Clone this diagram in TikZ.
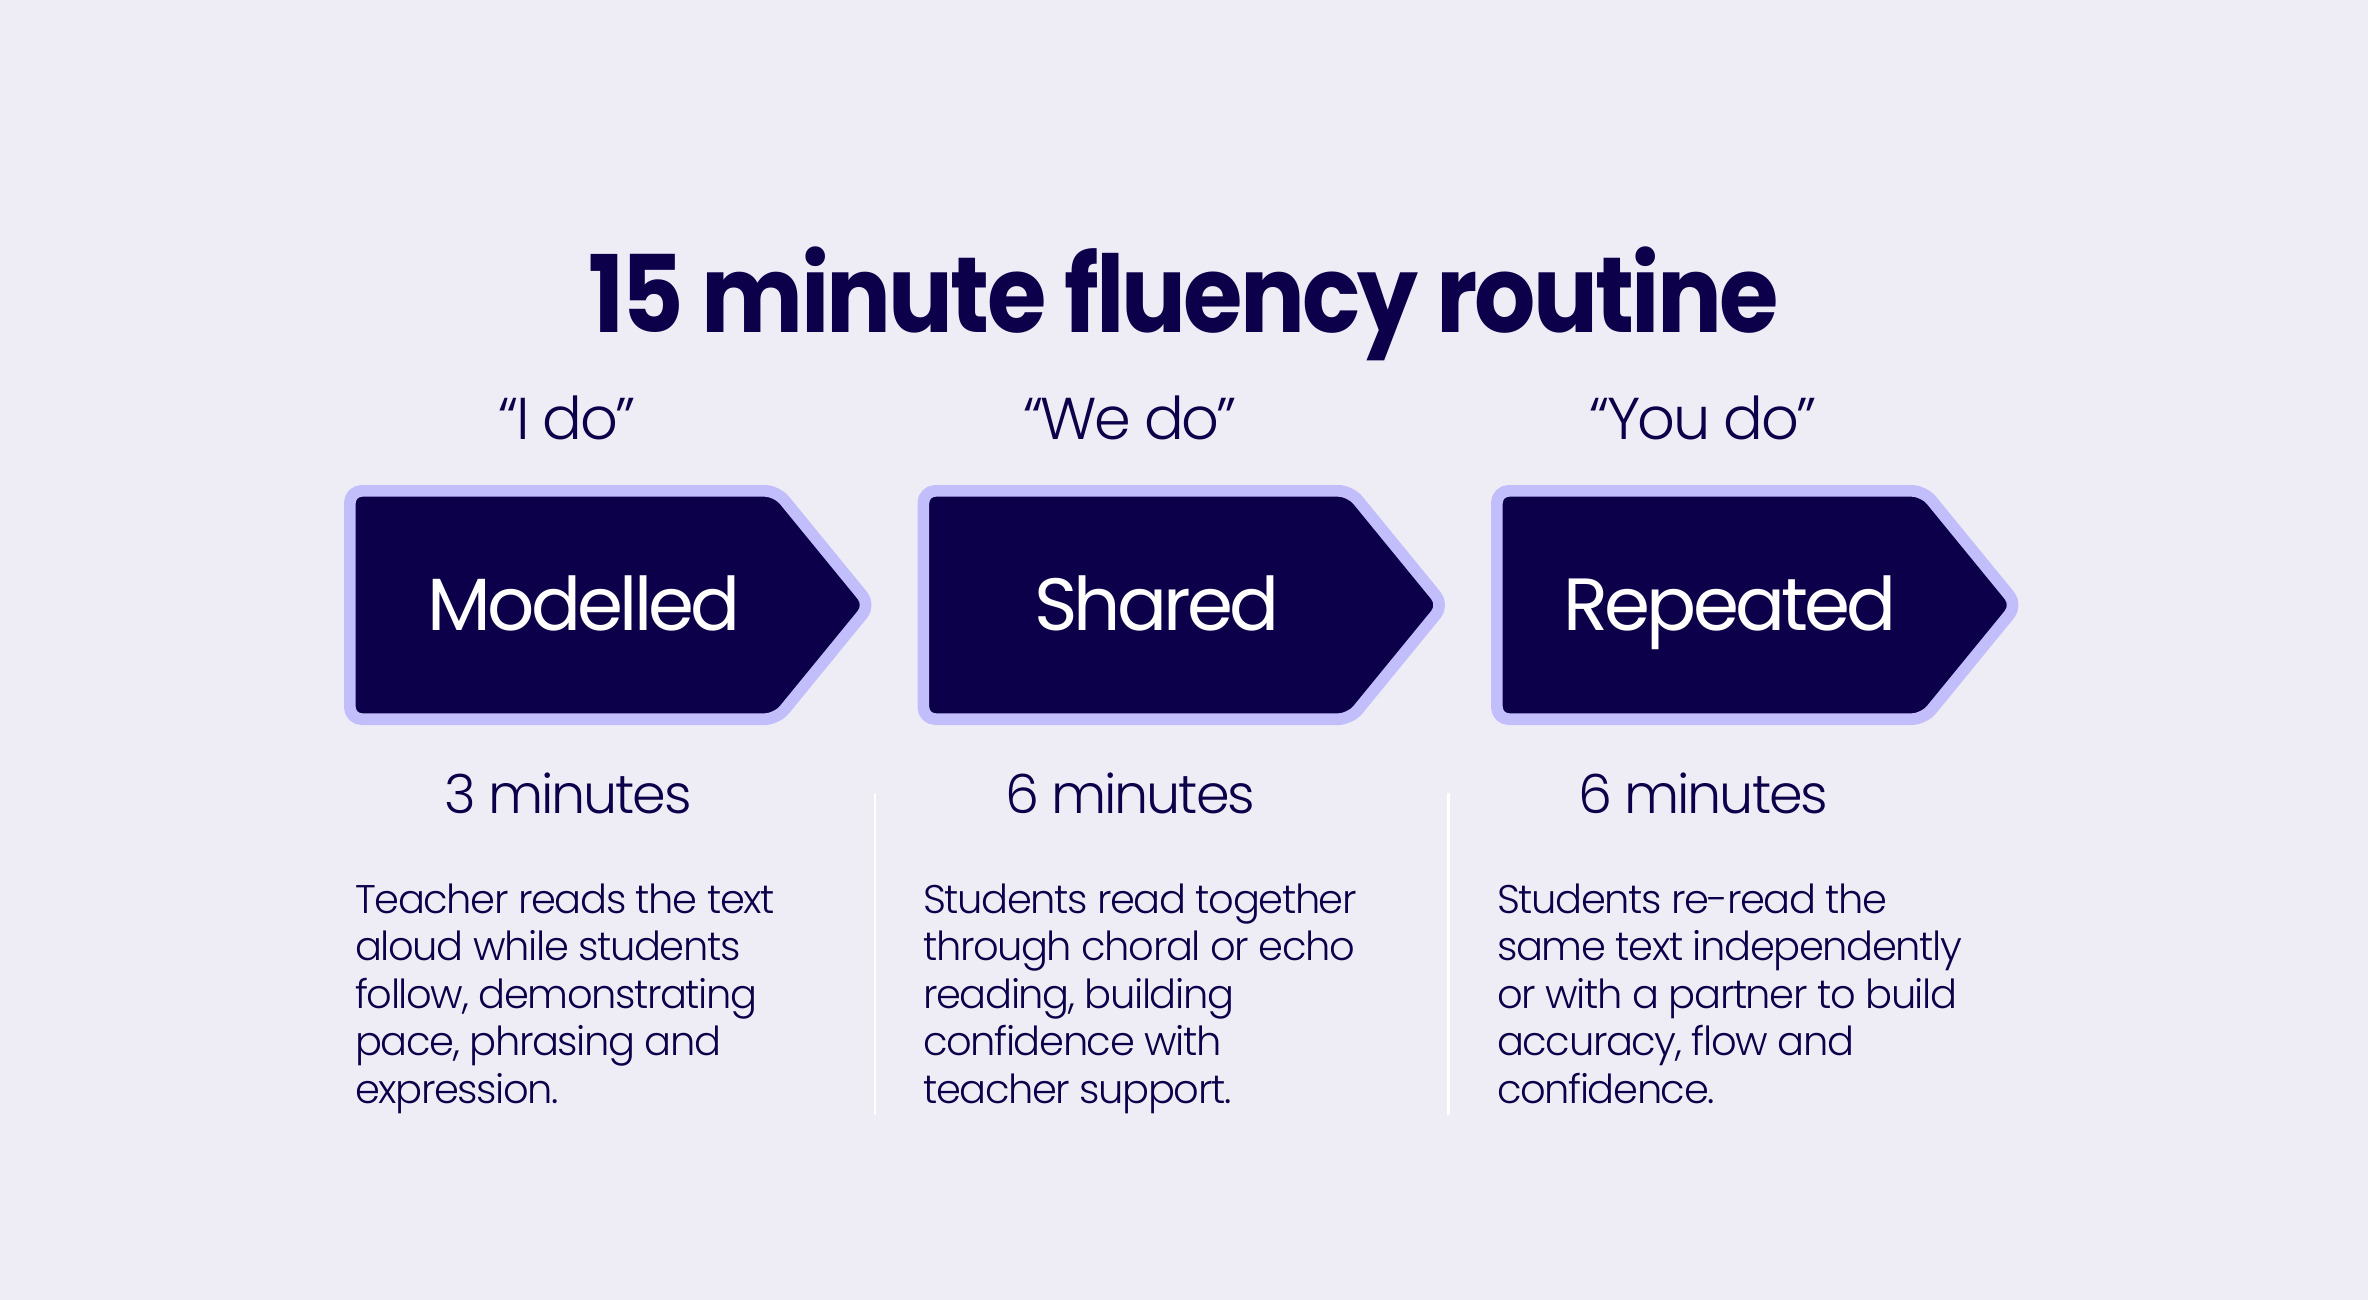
\documentclass[tikz,border=0pt]{standalone}
\usepackage{fontspec}
\setmainfont{Poppins}
\newfontfamily\popbold{Poppins}[UprightFont=* Bold, FakeStretch=0.9, LetterSpace=-2.6]
\newfontfamily\popreg{Poppins}[LetterSpace=-5]
\newfontfamily\poplight{Poppins Light}[LetterSpace=-3.5]
\newfontfamily\popmin{Poppins Light}[LetterSpace=-4]
\newfontfamily\popquote{Poppins Light}[LetterSpace=-4.5]
\definecolor{bg}{HTML}{EEECF5}
\definecolor{ink}{HTML}{0D004A}
\definecolor{rim}{HTML}{C1BEFB}
\tikzset{
  x=1pt, y=-1pt,
  chev/.style={fill=ink, draw=rim, line width=11.7pt, line join=round},
  titletxt/.style={text=ink, font=\popbold\fontsize{107}{110}\selectfont, inner sep=0, anchor=base},
  labeltxt/.style={text=white, font=\popreg\fontsize{74}{80}\selectfont, inner sep=0, anchor=base},
  quotetxt/.style={text=ink, font=\popquote\fontsize{59}{64}\selectfont, inner sep=0, anchor=base},
  mintxt/.style={text=ink, font=\popmin\fontsize{54}{60}\selectfont, inner sep=0, anchor=base},
  bodytxt/.style={text=ink, font=\poplight\fontsize{40}{47.5}\selectfont, inner sep=0, anchor=base west, align=left},
  sep/.style={draw=white, line width=2.5pt}
}
\begin{document}
\begin{tikzpicture}
\fill[bg] (0,0) rectangle (2368,1300);
\useasboundingbox (0,0) rectangle (2368,1300);
% chevrons
\foreach \dx in {0,573.5,1147} {
  \draw[chev, shift={(\dx,0)}, rounded corners=12pt]
    (349.85,719.15) -- (349.85,490.85) -- (776.7,490.85)
    -- (870.1,605) -- (776.7,719.15) -- cycle;
}
\node[titletxt] (title) at (1183.5,332) {15 minute fluency routine};
\node[quotetxt] (q1) at (567,439) {“I do”};
\node[quotetxt] (q2) at (1130,439) {“We do”};
\node[quotetxt] (q3) at (1703,439) {“You do”};
\node[labeltxt] (l1) at (584,630) {Modelled};
\node[labeltxt] (l2) at (1157,630) {Shared};
\node[labeltxt] (l3) at (1730,630) {Repeated};
\node[mintxt] (m1) at (568,813) {3 minutes};
\node[mintxt] (m2) at (1130,813) {6 minutes};
\node[mintxt] (m3) at (1703,813) {6 minutes};
% anchor base west = baseline of the last line
\node[bodytxt] (b1) at (355,1103) {Teacher reads the text\\aloud while students\\follow, demonstrating\\pace, phrasing and\\expression.};
\node[bodytxt] (b2) at (923,1103) {Students read together\\through choral or echo\\reading, building\\confidence with\\teacher support.};
\node[bodytxt] (b3) at (1497,1103) {Students re-read the\\same text independently\\or with a partner to build\\accuracy, flow and\\confidence.};
\coordinate (s1a) at (875,793); \coordinate (s1b) at (875,1115);
\coordinate (s2a) at (1448.5,793); \coordinate (s2b) at (1448.5,1115);
\draw[sep] (s1a) -- (s1b);
\draw[sep] (s2a) -- (s2b);
\end{tikzpicture}
\end{document}
